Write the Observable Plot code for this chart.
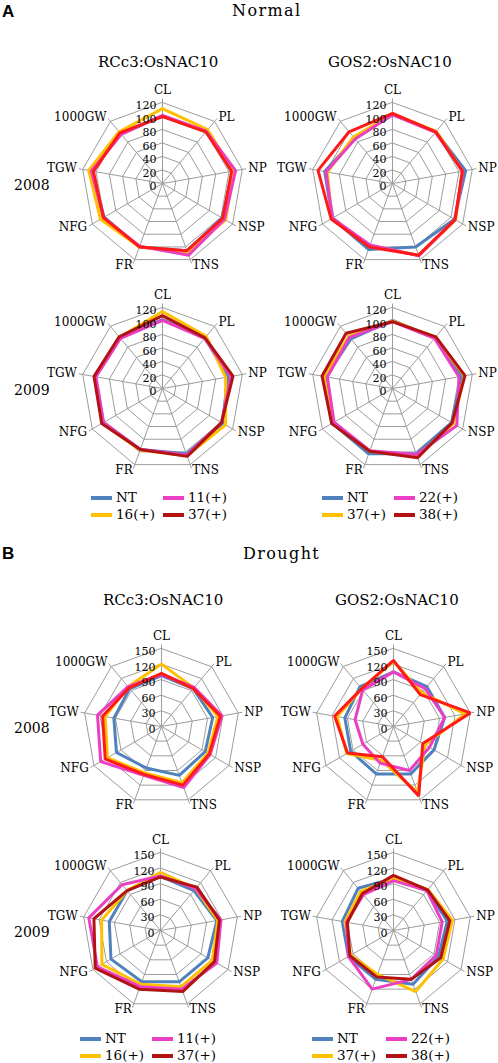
<!DOCTYPE html>
<html><head><meta charset="utf-8">
<script src="https://cdn.jsdelivr.net/npm/d3@7"></script>
<script src="https://cdn.jsdelivr.net/npm/@observablehq/plot@0.6"></script>
<style>
body{margin:0;background:#fff;}
#root{position:relative;width:498px;height:1063px;font-family:"DejaVu Serif",serif;color:#000;overflow:hidden;background:#fff;}
.t{position:absolute;white-space:nowrap;line-height:1;}
.p{position:absolute;}
</style></head><body><div id="root"></div>
<script>
const axes = ["CL","PL","NP","NSP","TNS","FR","NFG","TGW","1000GW"];
const namesRCc3 = ["NT","16(+)","11(+)","37(+)"];
const namesGOS2 = ["NT","37(+)","22(+)","38(+)"];
const colors2008 = ["#4f81bd","#ffc000","#ea3fc4","#ff1a1a"];
const colors2009 = ["#4f81bd","#ffc000","#ea3fc4","#b31212"];
const legendColors = ["#4f81bd","#ffc000","#ea3fc4","#b31212"];
const ticksNormal = [0,20,40,60,80,100,120];
const ticksDrought = [0,30,60,90,120,150];

// Normal 2008 RCc3:OsNAC10
const n08rNT = [100,100,106,102,106,100,100,106,96];
const n08r16 = [111,104,107,108,108,100,106,111,100];
const n08r11 = [101,101,110,106,113,99,101,107,95];
const n08r37 = [99,100,104,103,106,100,101,104,98];
// Normal 2008 GOS2:OsNAC10
const n08gNT = [102,100,110,106,100,104,103,102,87];
const n08g37 = [103,101,105,108,113,98,104,98,90];
const n08g22 = [102,99,106,107,114,97,103,100,86];
const n08g38 = [104,100,105,107,113,100,105,112,100];
// Normal 2009 RCc3
const n09rNT = [102,98,98,103,103,96,101,101,98];
const n09r16 = [114,101,95,108,106,97,103,102,99];
const n09r11 = [101,97,103,101,105,96,101,100,97];
const n09r37 = [108,98,106,101,107,96,104,103,100];
// Normal 2009 GOS2
const n09gNT = [101,98,104,101,103,103,103,100,96];
const n09g37 = [100,99,108,104,107,99,102,103,101];
const n09g22 = [99,97,100,110,104,98,100,98,99];
const n09g38 = [99,100,109,102,109,99,104,106,107];
// Drought 2008 RCc3
const d08rNT = [98,95,100,97,100,85,100,93,95];
const d08r16 = [120,97,110,103,115,95,120,110,100];
const d08r11 = [100,98,118,108,125,100,135,125,100];
const d08r37 = [102,95,115,106,120,98,125,115,97];
// Drought 2008 GOS2
const d08gNT = [105,100,100,90,97,97,95,95,100];
const d08g37 = [125,85,140,70,135,69,104,110,95];
const d08g22 = [105,95,100,80,90,75,68,75,92];
const d08g38 = [127,80,150,65,142,62,102,115,95];
// Drought 2009 RCc3
const d09rNT = [104,100,110,105,105,105,110,100,100];
const d09r16 = [112,105,112,115,115,110,130,115,100];
const d09r11 = [105,105,118,125,120,115,140,140,115];
const d09r37 = [103,109,115,120,125,120,145,130,100];
// Drought 2009 GOS2
const d09gNT = [100,100,105,100,110,100,100,100,106];
const d09g37 = [100,103,115,110,125,90,95,95,98];
const d09g22 = [96,100,95,95,100,120,100,92,90];
const d09g38 = [106,102,110,105,100,95,97,90,93];

const root = document.getElementById("root");
function txt(s, style) {
  const d = document.createElement("div");
  d.className = "t"; d.textContent = s;
  Object.assign(d.style, style);
  root.appendChild(d);
  return d;
}

const ang = i => i * 2 * Math.PI / axes.length;

function panel(cxAbs, cyAbs, ticks, rpx, names, colors, values) {
  const W = 250, H = 200, cx = 125, cy = 100;
  const max = ticks[ticks.length - 1];
  const pts = [];
  names.forEach((n, k) => values[k].forEach((v, i) => pts.push({name: n, i, v})));
  const grid = ticks.filter(t => t > 0).flatMap(r => axes.map((a, i) => ({r, i})));
  const spokes = axes.map((a, i) => ({a, i}));
  const labs = axes.map((a, i) => ({a, i, s: Math.sin(ang(i))}));
  const lr = 1 + 6 / rpx;
  const X = (r, i) => r * Math.sin(ang(i));
  const Y = (r, i) => r * Math.cos(ang(i));
  const svg = Plot.plot({
    width: W, height: H, margin: 0,
    x: {domain: [-cx / rpx, (W - cx) / rpx], axis: null},
    y: {domain: [-(H - cy) / rpx, cy / rpx], axis: null},
    color: {domain: names, range: colors},
    style: {background: "transparent", overflow: "visible"},
    marks: [
      Plot.line(grid, {x: d => X(d.r / max, d.i), y: d => Y(d.r / max, d.i), z: "r", curve: "linear-closed", stroke: "#9c9c9c", strokeWidth: 1}),
      Plot.link(spokes, {x1: () => 0, y1: () => 0, x2: d => X(1 + 4 / rpx, d.i), y2: d => Y(1 + 4 / rpx, d.i), stroke: "#9c9c9c", strokeWidth: 1}),
      Plot.line(pts, {x: d => X(d.v / max, d.i), y: d => Y(d.v / max, d.i), z: "name", stroke: "name", curve: "linear-closed", strokeWidth: 3, strokeLinejoin: "miter"}),
      Plot.text(ticks, {x: () => 0, y: d => d / max, text: d => String(d), textAnchor: "end", dx: -6, dy: 3, fontSize: 11, fontFamily: "DejaVu Serif", fill: "#000"}),
      Plot.text(labs.filter(d => Math.abs(d.s) < 0.2), {x: d => X(1 + 9 / rpx, d.i), y: d => Y(1 + 9 / rpx, d.i), text: "a", textAnchor: "middle", lineAnchor: "bottom", fontSize: 12, fontFamily: "DejaVu Serif", fill: "#000"}),
      Plot.text(labs.filter(d => d.s >= 0.2), {x: d => X(lr, d.i), y: d => Y(lr, d.i), text: "a", textAnchor: "start", lineAnchor: "middle", fontSize: 12, fontFamily: "DejaVu Serif", fill: "#000"}),
      Plot.text(labs.filter(d => d.s <= -0.2), {x: d => X(lr, d.i), y: d => Y(lr, d.i), text: "a", textAnchor: "end", lineAnchor: "middle", fontSize: 12, fontFamily: "DejaVu Serif", fill: "#000"})
    ]
  });
  svg.classList.add("p");
  svg.style.left = (cxAbs - cx) + "px"; svg.style.top = (cyAbs - cy) + "px";
  root.appendChild(svg);
}

function legend(left, top, names, colors, col2) {
  const order = [[0, 0, 0], [1, 0, 1], [2, 1, 0], [3, 1, 1]];
  order.forEach(([k, c, r]) => {
    const x = left + c * col2, y = top + r * 17;
    const sw = document.createElement("div");
    Object.assign(sw.style, {position: "absolute", left: x + "px", top: (y - 2) + "px", width: "21px", height: "4px", background: colors[k]});
    root.appendChild(sw);
    txt(names[k], {left: (x + 25) + "px", top: (y - 7) + "px", fontSize: "13.5px"});
  });
}

panel(162, 183, ticksNormal, 81, namesRCc3, colors2008, [n08rNT, n08r16, n08r11, n08r37]);
panel(392, 183, ticksNormal, 81, namesGOS2, colors2008, [n08gNT, n08g37, n08g22, n08g38]);
panel(162, 388, ticksNormal, 81, namesRCc3, colors2009, [n09rNT, n09r16, n09r11, n09r37]);
panel(392, 388, ticksNormal, 81, namesGOS2, colors2009, [n09gNT, n09g37, n09g22, n09g38]);
panel(161, 726, ticksDrought, 78, namesRCc3, colors2008, [d08rNT, d08r16, d08r11, d08r37]);
panel(393, 726, ticksDrought, 78, namesGOS2, colors2008, [d08gNT, d08g37, d08g22, d08g38]);
panel(160, 930, ticksDrought, 78, namesRCc3, colors2009, [d09rNT, d09r16, d09r11, d09r37]);
panel(393, 930, ticksDrought, 78, namesGOS2, colors2009, [d09gNT, d09g37, d09g22, d09g38]);

// Headers
txt("A", {left: "2px", top: "3px", fontFamily: "'Liberation Sans',Arial,sans-serif", fontWeight: "bold", fontSize: "17px"});
txt("Normal", {left: "232px", top: "3px", fontSize: "16px", letterSpacing: "1.4px"});
txt("RCc3:OsNAC10", {left: "98px", top: "55px", fontSize: "15px"});
txt("GOS2:OsNAC10", {left: "328px", top: "55px", fontSize: "15px"});
txt("B", {left: "2px", top: "545px", fontFamily: "'Liberation Sans',Arial,sans-serif", fontWeight: "bold", fontSize: "17px"});
txt("Drought", {left: "243px", top: "546px", fontSize: "16px", letterSpacing: "1.4px"});
txt("RCc3:OsNAC10", {left: "103px", top: "593px", fontSize: "15px"});
txt("GOS2:OsNAC10", {left: "335px", top: "593px", fontSize: "15px"});
txt("2008", {left: "14px", top: "178px", fontSize: "14px"});
txt("2009", {left: "14px", top: "383px", fontSize: "14px"});
txt("2008", {left: "14px", top: "721px", fontSize: "14px"});
txt("2009", {left: "14px", top: "925px", fontSize: "14px"});

legend(91, 498, namesRCc3, legendColors, 72);
legend(322, 498, namesGOS2, legendColors, 72);
legend(80, 1039, namesRCc3, legendColors, 72);
legend(312, 1039, namesGOS2, legendColors, 74);
</script></body></html>
